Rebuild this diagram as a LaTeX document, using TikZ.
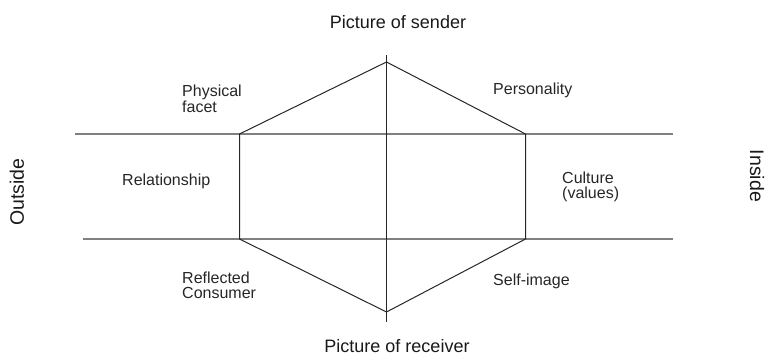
\documentclass[tikz,border=0pt]{standalone}
\usepackage{fontspec}
\setmainfont{Liberation Sans}
\begin{document}
\begin{tikzpicture}[x=1pt,y=-1pt,
  edge/.style={draw=black!85, line width=1pt},
  band/.style={draw=black!50, line width=1.3pt},
  title/.style={font=\fontsize{18}{20}\selectfont, text=black!90, inner sep=0pt},
  side/.style={font=\fontsize{19.5}{21}\selectfont, text=black!90, inner sep=0pt},
  facet/.style={font=\fontsize{16}{14.5}\selectfont, text=black!85, inner sep=0pt, align=left, anchor=base west}]
\useasboundingbox (0,0) rectangle (766,356);

% hexagon corners
\coordinate (top) at (386.5,62);
\coordinate (tl)  at (239.5,134);
\coordinate (bl)  at (239.5,239);
\coordinate (bot) at (386.5,312);
\coordinate (br)  at (525.5,239);
\coordinate (tr)  at (525.5,134);

% ends of the axes and the band lines
\coordinate (axT) at (386.5,55);
\coordinate (axB) at (386.5,322);
\coordinate (upL) at (75,134);
\coordinate (upR) at (673,134);
\coordinate (loL) at (83,239);
\coordinate (loR) at (673,239);

% band separating the facets
\draw[band] (upL) -- (upR);
\draw[band] (loL) -- (loR);

% prism
\draw[edge] (top) -- (tl) -- (bl) -- (bot) -- (br) -- (tr) -- cycle;
\draw[edge] (axT) -- (axB);

% headings
\node[title, anchor=base] (snd) at (398,28) {Picture of sender};
\node[title, anchor=base] (rcv) at (397,352) {Picture of receiver};
\node[side, rotate=90] (out) at (17,192) {Outside};
\node[side, rotate=-90] (ins) at (757,176) {Inside};

% facets (base anchor sits on the last line)
\node[facet] (phy) at (182,112) {Physical\\facet};
\node[facet] (per) at (493,94) {Personality};
\node[facet] (rel) at (122,185) {Relationship};
\node[facet] (cul) at (562,198) {Culture\\(values)};
\node[facet] (ref) at (182,298) {Reflected\\Consumer};
\node[facet] (slf) at (493,285) {Self-image};
\end{tikzpicture}
\end{document}
